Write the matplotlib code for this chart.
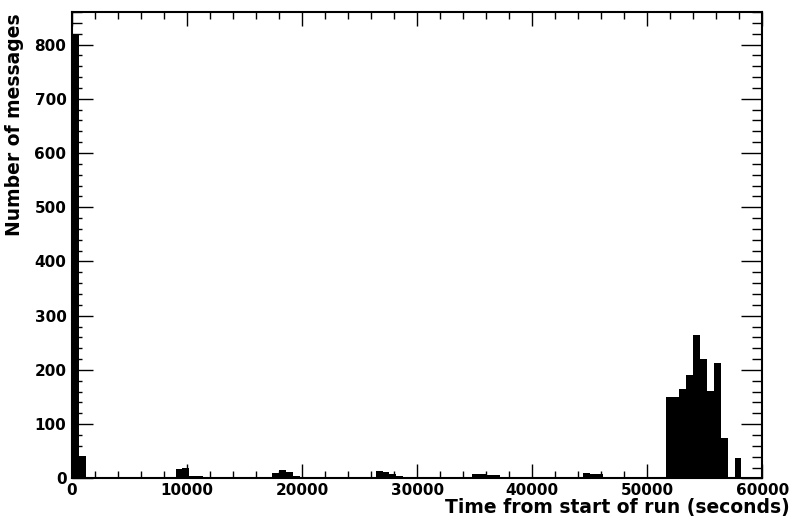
import numpy as np
import matplotlib
matplotlib.use('Agg')
import matplotlib.pyplot as plt
import matplotlib.transforms as mtransforms
from matplotlib.ticker import MultipleLocator

# histogram of messages, 100 bins of 600 s from 0 to 60000
bin_width = 600
counts = [820, 42, 2, 0, 0, 0, 0, 0, 0, 0,
          0, 0, 0, 0, 0, 17, 20, 4, 4, 0,
          0, 0, 0, 0, 0, 0, 0, 0, 2, 10,
          16, 11, 5, 2, 0, 0, 0, 0, 0, 0,
          0, 3, 3, 1, 14, 11, 9, 5, 2, 2,
          0, 0, 0, 0, 0, 0, 3, 0, 9, 9,
          7, 7, 2, 2, 0, 0, 0, 0, 0, 0,
          2, 0, 0, 3, 10, 8, 8, 2, 2, 1,
          0, 0, 0, 0, 2, 0, 150, 150, 164, 191,
          264, 221, 161, 213, 74, 0, 37, 0, 0, 0]
edges = np.arange(len(counts) + 1) * bin_width

plt.rcParams['font.family'] = ['DejaVu Sans']
plt.rcParams['font.weight'] = 'bold'

fig = plt.figure(figsize=(7.93, 5.27), dpi=100)
ax = fig.add_axes([0.0908, 0.0922, 0.8703, 0.8851])

ax.stairs(counts, edges, fill=True, color='black', linewidth=0)

ax.set_xlim(0, 60000)
ax.set_ylim(0, 860)

ax.xaxis.set_major_locator(MultipleLocator(10000))
ax.xaxis.set_minor_locator(MultipleLocator(2000))
ax.yaxis.set_major_locator(MultipleLocator(100))
ax.yaxis.set_minor_locator(MultipleLocator(20))

ax.tick_params(axis='both', which='both', direction='in', top=True, right=True,
               width=1, labelsize=11)
ax.tick_params(axis='x', which='major', length=10, pad=3)
ax.tick_params(axis='x', which='minor', length=5)
ax.tick_params(axis='y', which='major', length=15, pad=4)
ax.tick_params(axis='y', which='minor', length=7.5)
for lab in ax.get_xticklabels() + ax.get_yticklabels():
    lab.set_fontweight('bold')

# the x "0" sits a bit lower, like in root
fig.canvas.draw()
xlabs = ax.get_xticklabels()
xlabs[0].set_transform(xlabs[0].get_transform() +
                       mtransforms.ScaledTranslation(0, -4 / 72, fig.dpi_scale_trans))

for s in ax.spines.values():
    s.set_linewidth(1.5)

ax.set_xlabel('Time from start of run (seconds)', fontsize=13.5, fontweight='bold')
ax.xaxis.set_label_coords(1.04, -0.0742, transform=ax.transAxes)
ax.xaxis.label.set_ha('right')
ax.xaxis.label.set_va('baseline')

ax.set_ylabel('Number of messages', fontsize=13.5, fontweight='bold')
ax.yaxis.set_label_coords(-0.083, 0.998, transform=ax.transAxes)
ax.yaxis.label.set_ha('right')
ax.yaxis.label.set_va('center')

fig.savefig('out.png', dpi=100)
